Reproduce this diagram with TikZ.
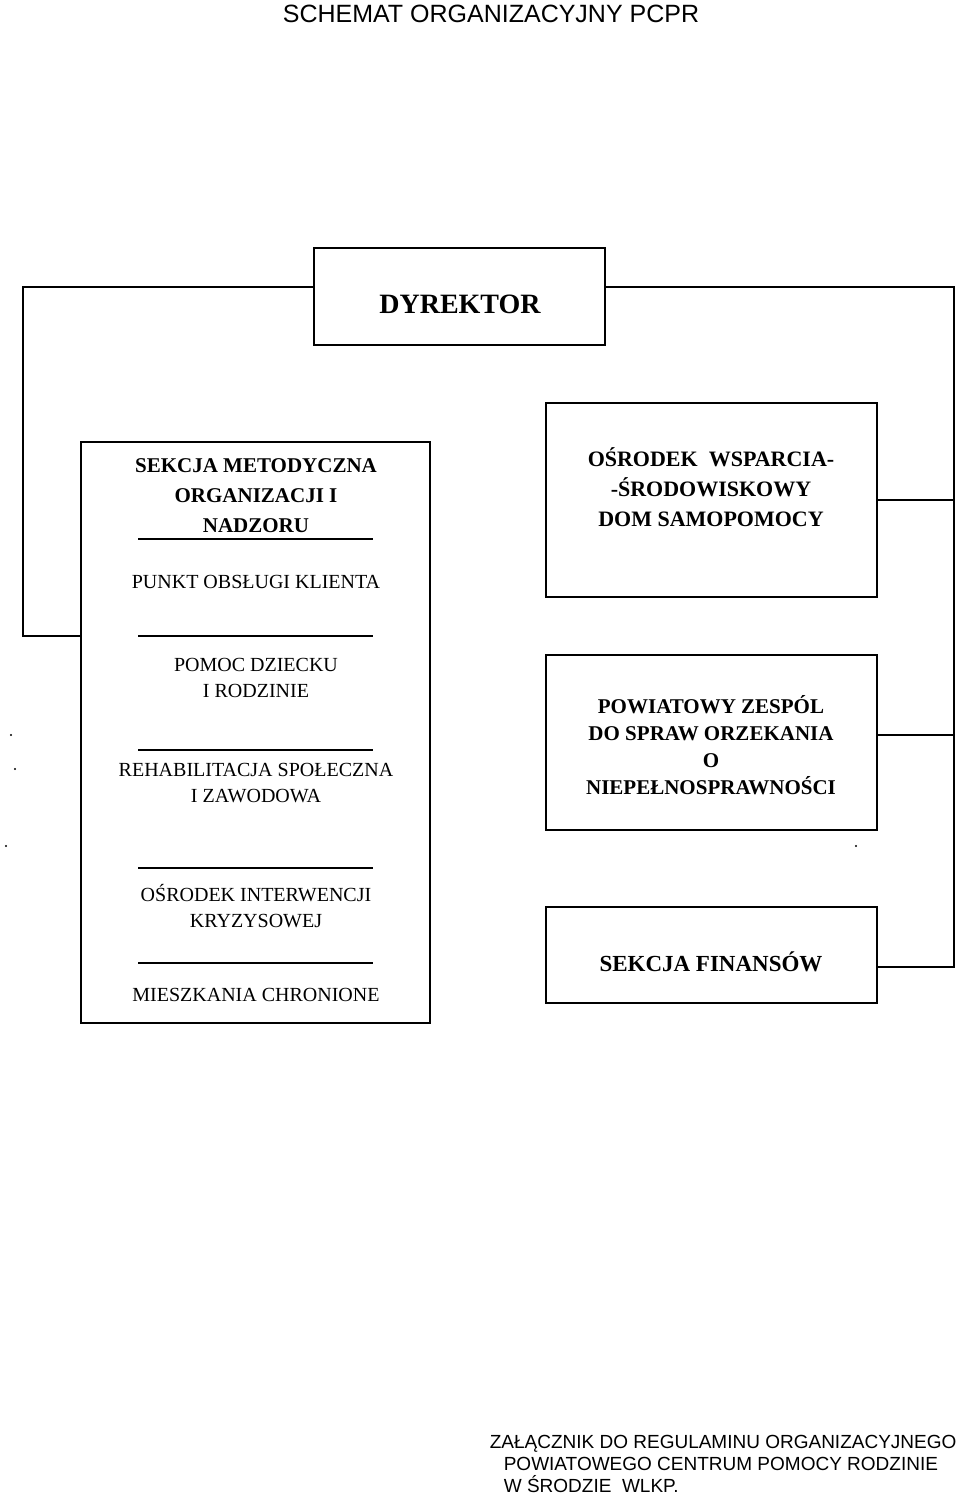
\documentclass[tikz,border=0pt]{standalone}
\usepackage{fontspec}
\setmainfont{Liberation Serif}
\newfontfamily\arialf{Liberation Sans}
\begin{document}
\begin{tikzpicture}[x=1pt,y=-1pt,line width=1.6pt,
  box/.style={draw,line width=1.6pt},
  lbl/.style={align=center,inner sep=0pt,font=\fontsize{20}{24}\selectfont},
  blbl/.style={align=center,inner sep=0pt,font=\fontsize{21}{25}\selectfont\bfseries},
  sep/.style={line width=1.2pt}]
\useasboundingbox (0,0) rectangle (960,1498);
\node[font=\arialf\fontsize{25}{30}\selectfont,inner sep=0pt] (title) at (491,14) {SCHEMAT ORGANIZACYJNY PCPR};
% boxes
\draw[box] (314,248) rectangle (605,345);
\node[font=\fontsize{28}{32}\selectfont\bfseries,inner sep=0pt] (dyr) at (460,304) {DYREKTOR};
\draw[box] (81,442) rectangle (430,1023);
\draw[box] (546,403) rectangle (877,597);
\draw[box] (546,655) rectangle (877,830);
\draw[box] (546,907) rectangle (877,1003);
\coordinate (lb) at (81,636);
% connectors
\draw (314,287) -- (23,287) -- (23,636) -- (lb);
\draw (605,287) -- (954,287) -- (954,967) -- (877,967);
\draw (954,500) -- (877,500);
\draw (954,735) -- (877,735);
% left box contents
\node[lbl,font=\fontsize{21}{30}\selectfont\bfseries] (sek) at (256,496) {SEKCJA METODYCZNA\\ORGANIZACJI I\\NADZORU};
\draw[sep] (138,539) -- (373,539);
\node[lbl] (pok) at (256,582) {PUNKT OBSŁUGI KLIENTA};
\draw[sep] (138,636) -- (373,636);
\node[lbl,font=\fontsize{20}{26}\selectfont] (pdr) at (256,678) {POMOC DZIECKU\\I RODZINIE};
\draw[sep] (138,750) -- (373,750);
\node[lbl,font=\fontsize{20}{26}\selectfont] (rsz) at (256,783) {REHABILITACJA SPOŁECZNA\\I ZAWODOWA};
\draw[sep] (138,868) -- (373,868);
\node[lbl,font=\fontsize{20}{26}\selectfont] (oik) at (256,906) {OŚRODEK INTERWENCJI\\KRYZYSOWEJ};
\draw[sep] (138,963) -- (373,963);
\node[lbl] (mch) at (256,995) {MIESZKANIA CHRONIONE};
% right boxes text
\node[blbl,font=\fontsize{22}{30}\selectfont\bfseries] (osr) at (711,487) {OŚRODEK\ \ WSPARCIA-\\-ŚRODOWISKOWY\\DOM SAMOPOMOCY};
\node[blbl,font=\fontsize{21}{27}\selectfont\bfseries] (pzs) at (711,745) {POWIATOWY ZESPÓL\\DO SPRAW ORZEKANIA\\O\\NIEPEŁNOSPRAWNOŚCI};
\node[blbl,font=\fontsize{23}{27}\selectfont\bfseries] (fin) at (711,962) {SEKCJA FINANSÓW};
% stray dots
\fill (11,735) circle (1.1);
\fill (15,769) circle (1.1);
\fill (6,846) circle (1.1);
\fill (856,846) circle (1.1);
% annex note
\node[font=\arialf\fontsize{19}{22}\selectfont,align=left,inner sep=0pt,anchor=north west] (zal) at (489,1434) {ZAŁĄCZNIK DO REGULAMINU ORGANIZACYJNEGO\\\hspace*{14pt}POWIATOWEGO CENTRUM POMOCY RODZINIE\\\hspace*{14pt}W ŚRODZIE\ \ WLKP.};
\end{tikzpicture}
\end{document}
